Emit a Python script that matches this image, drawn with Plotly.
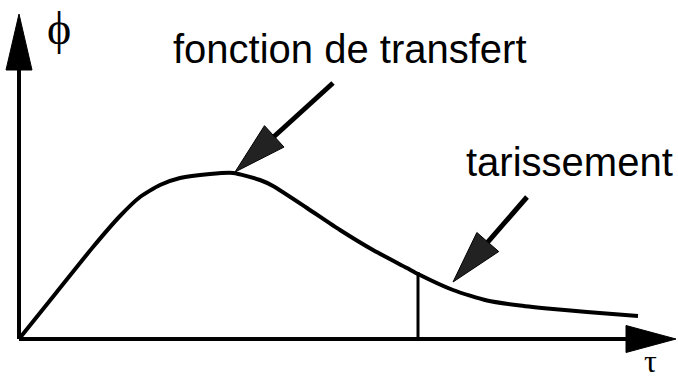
import numpy as np
import plotly.graph_objects as go

# Curve of the transfer function (tau, phi) in arbitrary units
tau = [0.00, 0.37, 0.74, 1.01, 1.21, 1.41, 1.61, 1.91, 2.14, 2.41, 2.54,
       2.88, 3.21, 3.54, 3.88, 3.99, 4.34, 4.68, 5.01, 5.34, 5.68, 6.19]
phi = [0.00, 0.46, 0.92, 1.23, 1.42, 1.54, 1.61, 1.65, 1.66, 1.59, 1.53,
       1.31, 1.09, 0.89, 0.71, 0.65, 0.49, 0.385, 0.335, 0.30, 0.27, 0.23]

# Marker of the start of recession
tau_cut = 3.99
phi_cut = 0.67

# Labels
label_transfer = "fonction de transfert"
label_recession = "tarissement"
label_phi = "ϕ"
label_tau = "τ"

# Annotation arrows (tail -> tip)
arrow1_tail = (3.14, 2.56)
arrow1_tip = (2.16, 1.67)
arrow2_tail = (5.08, 1.42)
arrow2_tip = (4.34, 0.57)

X_RANGE = [-0.19, 6.59]
Y_RANGE = [-0.41, 3.39]

fig = go.Figure()

fig.add_trace(go.Scatter(x=tau, y=phi, mode="lines",
                         line=dict(color="black", width=4, shape="spline", smoothing=0.6),
                         hoverinfo="skip", showlegend=False))
fig.add_trace(go.Scatter(x=[tau_cut, tau_cut], y=[0, phi_cut], mode="lines",
                         line=dict(color="black", width=3),
                         hoverinfo="skip", showlegend=False))

shapes = []

def tri_path(tip, direction, length, half_w):
    d = np.array(direction, dtype=float)
    d /= np.linalg.norm(d)
    n = np.array([-d[1], d[0]])
    tip = np.array(tip, dtype=float)
    base = tip - d * length
    p1 = base + n * half_w
    p2 = base - n * half_w
    return f"M {tip[0]},{tip[1]} L {p1[0]},{p1[1]} L {p2[0]},{p2[1]} Z"

# axes
y_top = Y_RANGE[1] - 0.14
x_right = X_RANGE[1] - 0.02
shapes.append(dict(type="line", x0=0, y0=0, x1=0, y1=y_top - 0.5,
                   line=dict(color="black", width=4)))
shapes.append(dict(type="path", path=tri_path((0, y_top), (0, 1), 0.56, 0.13),
                   fillcolor="black", line=dict(color="black", width=1)))
shapes.append(dict(type="line", x0=0, y0=0, x1=x_right - 0.45, y1=0,
                   line=dict(color="black", width=4)))
shapes.append(dict(type="path", path=tri_path((x_right, 0), (1, 0), 0.5, 0.135),
                   fillcolor="black", line=dict(color="black", width=1)))

for tail, tip in [(arrow1_tail, arrow1_tip), (arrow2_tail, arrow2_tip)]:
    d = np.array(tip) - np.array(tail)
    u = d / np.linalg.norm(d)
    base = np.array(tip) - u * 0.45
    shapes.append(dict(type="line", x0=tail[0], y0=tail[1], x1=base[0], y1=base[1],
                       line=dict(color="black", width=5)))
    shapes.append(dict(type="path", path=tri_path(tip, d, 0.53, 0.145),
                       fillcolor="#222", line=dict(color="black", width=1)))

annotations = [
    dict(x=3.305, y=2.90, text=label_transfer, showarrow=False, xanchor="center", yanchor="middle",
         font=dict(family="Liberation Sans, Arial", size=40, color="black")),
    dict(x=5.505, y=1.77, text=label_recession, showarrow=False, xanchor="center", yanchor="middle",
         font=dict(family="Liberation Sans, Arial", size=40, color="black")),
    dict(x=0.395, y=3.11, text=label_phi, showarrow=False, xanchor="center", yanchor="middle",
         font=dict(family="Liberation Serif, Times New Roman", size=46, color="black")),
    dict(x=6.31, y=Y_RANGE[0] + 0.005, text=label_tau, showarrow=False, xanchor="center",
         yanchor="bottom", borderpad=0,
         font=dict(family="Liberation Serif, Times New Roman", size=32, color="black")),
]

fig.update_layout(
    width=678, height=380,
    margin=dict(l=0, r=0, t=0, b=0),
    paper_bgcolor="white", plot_bgcolor="white",
    xaxis=dict(range=X_RANGE, visible=False, fixedrange=True),
    yaxis=dict(range=Y_RANGE, visible=False, fixedrange=True),
    shapes=shapes, annotations=annotations,
    showlegend=False,
)

fig.write_html("out.html", config={"displayModeBar": False, "staticPlot": True},
               post_script="document.body.style.margin='0';document.body.style.overflow='hidden';")
